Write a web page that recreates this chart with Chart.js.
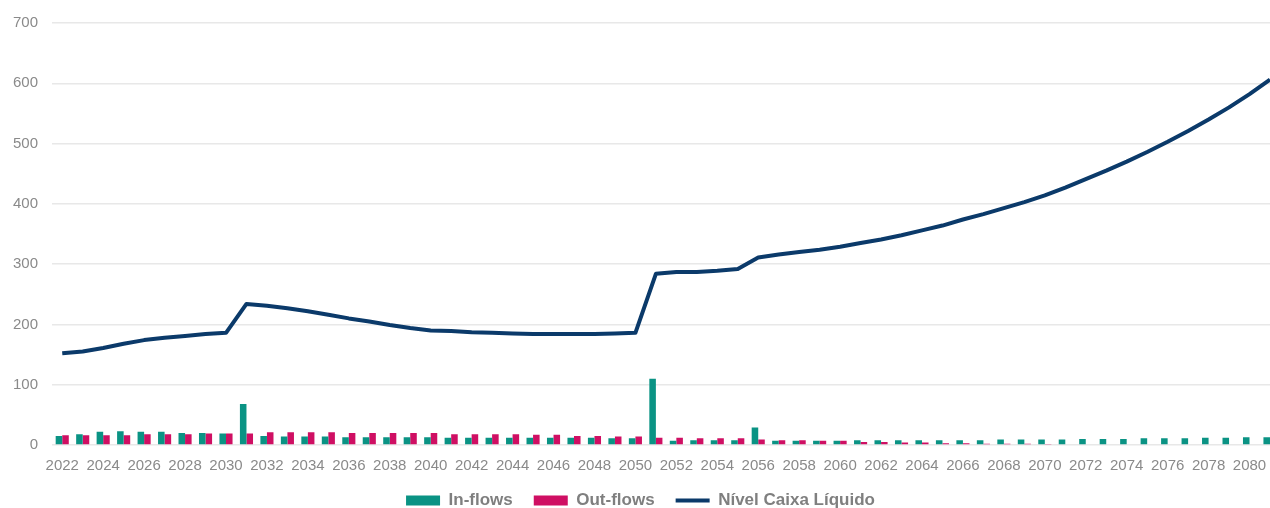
<!DOCTYPE html>
<html>
<head>
<meta charset="utf-8">
<script src="https://cdn.jsdelivr.net/npm/chart.js@4.4.1/dist/chart.umd.min.js"></script>
<style>
  html, body { margin: 0; padding: 0; background: #fff; overflow: hidden; }
  #wrap { width: 1282px; height: 508px; }
</style>
</head>
<body>
<div id="wrap"><canvas id="cashChart" width="1282" height="508"></canvas></div>
<script>
// anos da projeção
const years = [
  '2022', '2023', '2024', '2025', '2026', '2027', '2028', '2029', '2030', '2031',
  '2032', '2033', '2034', '2035', '2036', '2037', '2038', '2039', '2040', '2041',
  '2042', '2043', '2044', '2045', '2046', '2047', '2048', '2049', '2050', '2051',
  '2052', '2053', '2054', '2055', '2056', '2057', '2058', '2059', '2060', '2061',
  '2062', '2063', '2064', '2065', '2066', '2067', '2068', '2069', '2070', '2071',
  '2072', '2073', '2074', '2075', '2076', '2077', '2078', '2079', '2080', '2081',
];

const inFlows = [
  15, 18, 22, 23, 22, 22, 20, 20, 19, 68,
  15, 14, 14, 14, 13, 13, 13, 13, 13, 12,
  12, 12, 12, 12, 12, 12, 12, 11, 11, 110,
  7, 8, 8, 8, 29, 7, 7, 7, 7, 8,
  8, 8, 8, 8, 8, 8, 9, 9, 9, 9,
  10, 10, 10, 11, 11, 11, 12, 12, 13, 13,
];

const outFlows = [
  16, 16, 16, 16, 18, 18, 18, 19, 19, 19,
  21, 21, 21, 21, 20, 20, 20, 20, 20, 18,
  18, 18, 18, 17, 17, 15, 15, 14, 14, 12,
  12, 11, 11, 11, 9, 8, 8, 7, 7, 5,
  5, 4, 4, 3, 3, 2, 2, 2, 1, 0,
  0, 0, 0, 0, 0, 0, 0, 0, 0, 0,
];

const cashLevel = [
  152, 155, 161, 168, 174, 178, 181, 184, 186, 234,
  231, 227, 222, 216, 210, 205, 199, 194, 190, 189,
  187, 186, 185, 184, 184, 184, 184, 185, 186, 284,
  287, 287, 289, 292, 311, 316, 320, 324, 329, 335,
  341, 348, 356, 364, 374, 383, 393, 403, 414, 427,
  441, 455, 470, 486, 503, 521, 540, 560, 582, 606,
];

const yTicks = [0, 100, 200, 300, 400, 500, 600, 700];

const TEAL = '#0a9384';
const PINK = '#cf0f63';
const NAVY = '#0b3a6a';
const GREY = '#8a8a8a';

Chart.defaults.font.family = "'Liberation Sans', Arial, sans-serif";

const ctx = document.getElementById('cashChart').getContext('2d');

new Chart(ctx, {
  type: 'bar',
  data: {
    labels: years,
    datasets: [
      {
        label: 'In-flows',
        data: inFlows,
        backgroundColor: TEAL,
        pointStyle: 'rect',
        categoryPercentage: 0.64,
        barPercentage: 1,
        order: 2,
      },
      {
        label: 'Out-flows',
        data: outFlows,
        backgroundColor: PINK,
        pointStyle: 'rect',
        categoryPercentage: 0.64,
        barPercentage: 1,
        order: 3,
      },
      {
        type: 'line',
        label: 'Nível Caixa Líquido',
        data: cashLevel,
        borderColor: NAVY,
        backgroundColor: NAVY,
        borderWidth: 4,
        borderJoinStyle: 'round',
        pointRadius: 0,
        pointStyle: 'line',
        tension: 0,
        order: 1,
      },
    ],
  },
  options: {
    responsive: false,
    animation: false,
    layout: {
      padding: { top: 20, right: 1, left: 0, bottom: 0 },
    },
    plugins: {
      tooltip: { enabled: false },
      legend: {
        position: 'bottom',
        maxHeight: 37,
        labels: {
          usePointStyle: true,
          pointStyleWidth: 34,
          boxHeight: 10,
          padding: 21,
          color: '#7f7f7f',
          font: { size: 17, weight: 'bold' },
          // legenda na ordem dos datasets, não na ordem de desenho
          sort: (a, b) => a.datasetIndex - b.datasetIndex,
        },
      },
    },
    scales: {
      x: {
        grid: { display: false, drawTicks: false },
        border: { display: false },
        afterFit: (scale) => {
          scale.height -= 16;
        },
        ticks: {
          autoSkip: false,
          maxRotation: 0,
          padding: 12,
          color: GREY,
          font: { size: 15 },
          // só os anos pares aparecem no eixo
          callback: function (value, index) {
            return index % 2 === 0 ? years[index] : '';
          },
        },
      },
      y: {
        min: 0,
        max: 700,
        afterBuildTicks: (scale) => {
          scale.ticks = yTicks.map((v) => ({ value: v }));
        },
        afterFit: (scale) => {
          scale.width = 52;
        },
        grid: { color: '#e8e8e8', lineWidth: 1.5, drawTicks: false },
        border: { display: false },
        ticks: {
          padding: 14,
          color: GREY,
          font: { size: 15 },
        },
      },
    },
  },
});
</script>
</body>
</html>
